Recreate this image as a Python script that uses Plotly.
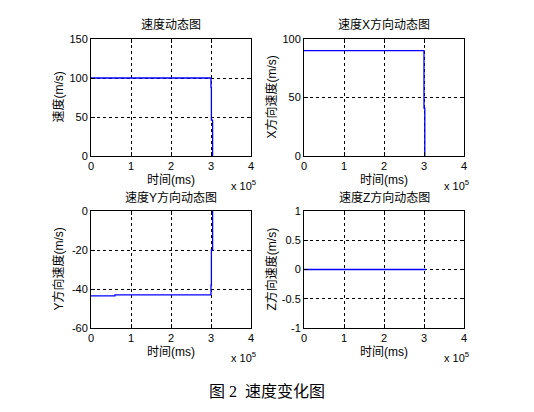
import plotly.graph_objects as go

# data
t_v = [0, 3.0e5, 3.0e5, 3.01e5, 3.01e5, 3.04e5, 3.04e5]
v = [100, 100, 88, 88, 46, 46, 0]
t_x = [0, 3.0e5, 3.0e5, 3.02e5, 3.02e5]
vx = [90, 90, 41, 41, 0]
t_y = [0, 0.6e5, 0.6e5, 3.0e5, 3.0e5, 3.01e5, 3.01e5, 3.04e5, 3.04e5]
vy = [-43.5, -43.5, -43, -43, -38, -38, -20, -20, 0]
t_z = [0, 3.05e5]
vz = [0, 0]

titles = ["速度动态图", "速度X方向动态图", "速度Y方向动态图", "速度Z方向动态图"]
ytitles = ["速度(m/s)", "X方向速度(m/s)", "Y方向速度(m/s)", "Z方向速度(m/s)"]
xtitle = "时间(ms)"
xticks = [0, 1e5, 2e5, 3e5, 4e5]
xticklabels = ["0", "1", "2", "3", "4"]
yranges = [[0, 150], [0, 100], [-60, 0], [-1, 1]]
yticks = [[0, 50, 100, 150], [0, 50, 100], [-60, -40, -20, 0], [-1, -0.5, 0, 0.5, 1]]
yticklabels = [["0", "50", "100", "150"], ["0", "50", "100"], ["-60", "-40", "-20", "0"],
               ["-1", "-0.5", "0", "0.5", "1"]]
caption = "图 2  速度变化图"

W, H = 534, 412
boxes = [(91, 251, 39, 156), (304, 464, 39, 156), (91, 251, 211, 328), (304, 464, 211, 328)]

FONT = "Liberation Sans, Arial, Noto Sans CJK SC"
TF = dict(family=FONT, size=12, color="black")
fig = go.Figure()
series = [(t_v, v), (t_x, vx), (t_y, vy), (t_z, vz)]
ann = []


def add_text(px, py, text, font, angle=0):
    ann.append(dict(x=px / W, y=1 - py / H, xref="paper", yref="paper", text=text,
                    xanchor="center", yanchor="middle", textangle=angle,
                    showarrow=False, font=font))


for i, ((x0, x1, y0, y1), (tx, vals)) in enumerate(zip(boxes, series)):
    n = "" if i == 0 else str(i + 1)
    fig.add_trace(go.Scatter(x=tx, y=vals, mode="lines", line=dict(color="#0000ff", width=1.3),
                             xaxis="x" + n, yaxis="y" + n, showlegend=False, hoverinfo="skip"))
    common = dict(showline=True, linecolor="black", linewidth=1, mirror="ticks", ticks="inside",
                  ticklen=4, tickcolor="black", showgrid=True, gridcolor="black", griddash="3px,3px",
                  gridwidth=1, zeroline=False, automargin=False,
                  tickfont=dict(family=FONT, size=11, color="black"))
    fig.layout["xaxis" + n] = dict(domain=[x0 / W, x1 / W], range=[0, 4e5], tickvals=xticks,
                                   ticktext=xticklabels, anchor="y" + n, **common)
    fig.layout["yaxis" + n] = dict(domain=[1 - y1 / H, 1 - y0 / H], range=yranges[i],
                                   tickvals=yticks[i], ticktext=yticklabels[i], anchor="x" + n, **common)
    cx = (x0 + x1) / 2
    add_text(cx, y0 - 14, titles[i], TF)
    add_text(cx, y1 + 24, xtitle, TF)
    add_text(x0 - 33, (y0 + y1) / 2, ytitles[i], TF, -90)
    add_text(x1 - 8, y1 + 29, "x 10<sup>5</sup>", dict(family=FONT, size=11, color="black"))

add_text(267, 391, caption, dict(family="Liberation Serif, Noto Sans CJK SC", size=16, color="black"))

fig.update_layout(width=W, height=H, margin=dict(l=0, r=0, t=0, b=0), paper_bgcolor="white",
                  plot_bgcolor="white", annotations=ann, showlegend=False, template="none")
fig.write_html("out.html", config={"displayModeBar": False},
               post_script="document.body.style.margin='0';")
